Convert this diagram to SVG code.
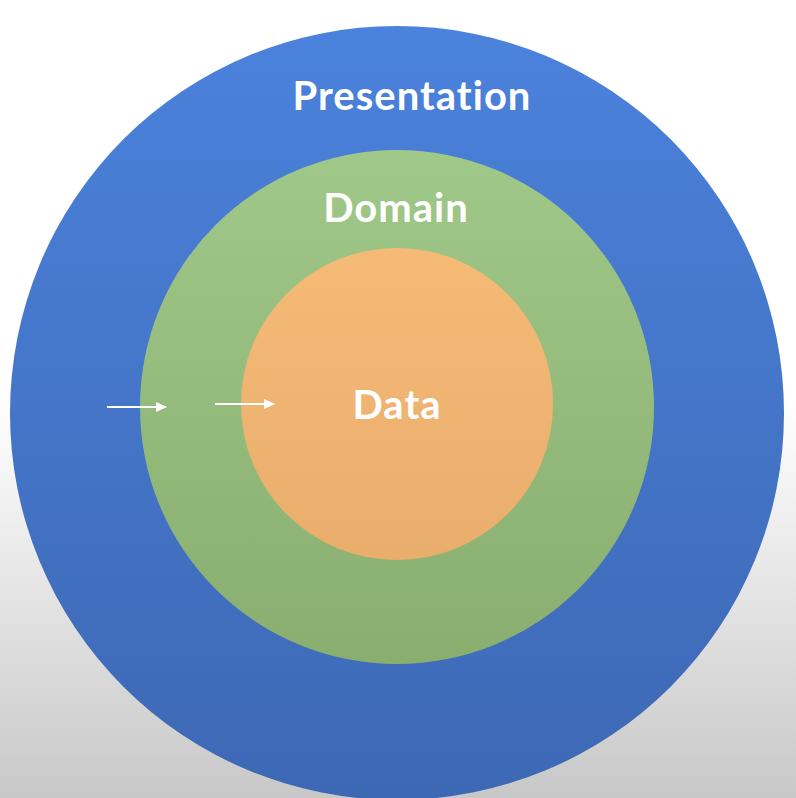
<svg xmlns="http://www.w3.org/2000/svg" width="796" height="798" viewBox="0 0 796 798">
<defs>
<linearGradient id="bg" x1="0" y1="0" x2="0" y2="1"><stop offset="0.5" stop-color="#ffffff"/><stop offset="1" stop-color="#c8c8c8"/></linearGradient>
<linearGradient id="blue" x1="0" y1="0" x2="0" y2="1"><stop offset="0" stop-color="#4b82dc"/><stop offset="1" stop-color="#3d68b4"/></linearGradient>
<linearGradient id="green" x1="0" y1="0" x2="0" y2="1"><stop offset="0" stop-color="#a0c889"/><stop offset="1" stop-color="#89ae6f"/></linearGradient>
<linearGradient id="orange" x1="0" y1="0" x2="0" y2="1"><stop offset="0" stop-color="#f5ba76"/><stop offset="1" stop-color="#e9ae6c"/></linearGradient>
<marker id="ah" markerWidth="11" markerHeight="10" refX="10" refY="5" orient="auto" markerUnits="userSpaceOnUse"><path d="M0,0 L11,5 L0,10 Z" fill="#fff"/></marker>
<style>.t{font-family:"Lato","Liberation Sans",sans-serif;font-weight:bold;fill:#fff;text-anchor:middle}</style>
</defs>
<rect width="796" height="798" fill="url(#bg)"/>
<g id="presentation"><circle cx="397" cy="413" r="387" fill="url(#blue)"/><text class="t" x="412" y="110" font-size="40" letter-spacing="1">Presentation</text></g>
<g id="domain"><circle cx="397" cy="407" r="257" fill="url(#green)"/><text class="t" x="396" y="222" font-size="40" letter-spacing="1">Domain</text></g>
<g id="data"><circle cx="397" cy="404" r="156" fill="url(#orange)"/><text class="t" x="397" y="419" font-size="40" letter-spacing="1">Data</text></g>
<g id="connectors" stroke="#fff" stroke-width="2">
<line x1="107" y1="407" x2="166" y2="407" marker-end="url(#ah)"/>
<line x1="215" y1="404" x2="274" y2="404" marker-end="url(#ah)"/>
</g>
</svg>
